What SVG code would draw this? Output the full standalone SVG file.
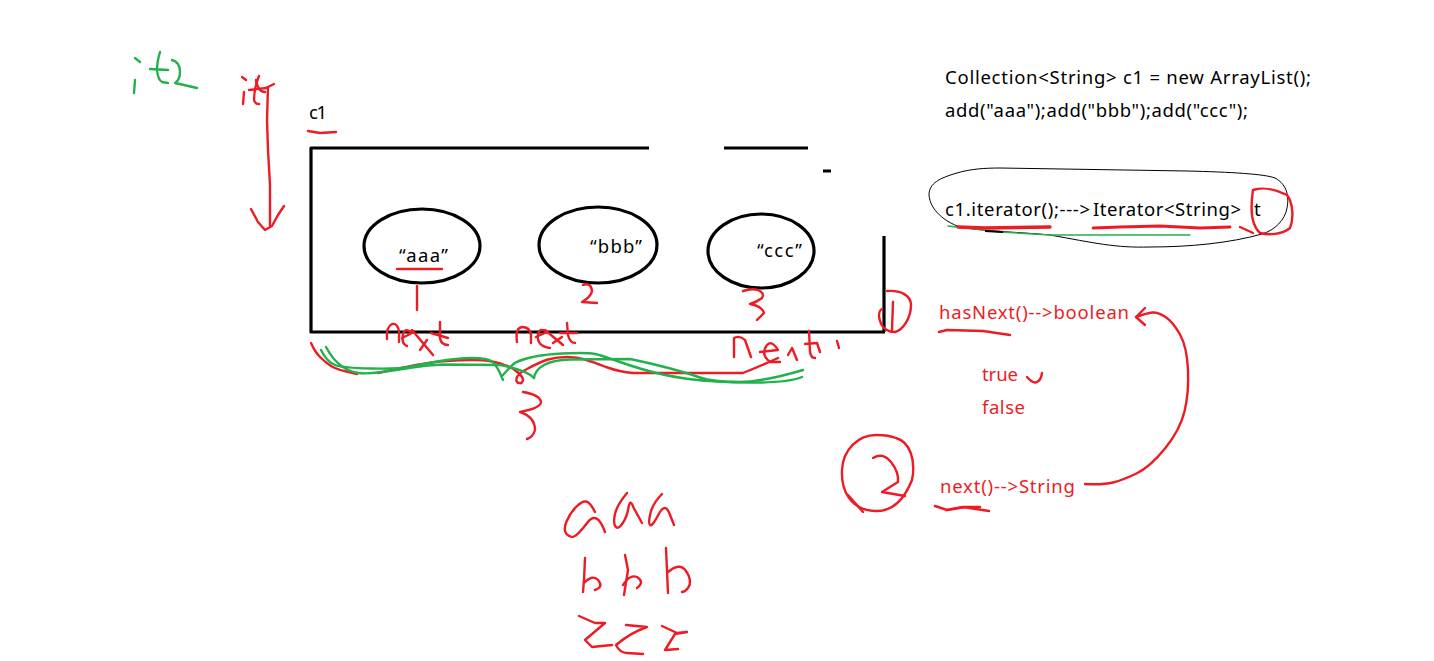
<svg xmlns="http://www.w3.org/2000/svg" width="1434" height="661" viewBox="0 0 1434 661">
<style>
text{font-family:"Noto Sans","Open Sans","Liberation Sans",sans-serif;font-size:18.5px}
.k{fill:#000}.rt{fill:#ed1c24}
.r,.g,.b,.t{fill:none;stroke-linejoin:round;stroke-linecap:round}
.r{stroke:#ed1c24;stroke-width:2.4}
.g{stroke:#22b14c;stroke-width:2.4}
.b{stroke:#000;stroke-width:3.2;stroke-linecap:butt}
.t{stroke:#000;stroke-width:1}
</style>
<rect width="1434" height="661" fill="#fff"/>

<g id="label-it2">
<polyline class="g" points="135,58 140,62"/><polyline class="g" points="135,80 134,93"/>
<path class="g" d="M160,52Q157,62 157,70Q158,80 162,82L168,83"/><polyline class="g" points="150,69 168,70"/>
<path class="g" d="M172,60Q180,62 180,72Q180,80 175,83L184,85L197,88"/>
</g>
<g id="label-it">
<polyline class="r" points="242,77 246,80"/><polyline class="r" points="244,92 243,104"/>
<path class="r" d="M259,76Q254,88 254,100Q255,104 259,104"/><polyline class="r" points="249,90 266,88 274,84"/>
<path class="r" d="M256,80Q258,92 265,92"/>
<polyline class="r" points="268,87 267,120 268,150 270,185 270,226"/>
<polyline class="r" points="251,209 258,222 265,230 272,226 278,215 284,206"/>
</g>
<g id="label-c1">
<text class="k" x="309" y="119" textLength="18">c1</text>
<polyline class="r" points="308,131 320,133 336,132"/>
</g>

<g id="collection-box">
<path class="b" d="M649,148H311V332H885M884,332V236M724,148H808M823,171H831"/>
</g>
<g id="node-aaa">
<ellipse class="b" cx="422" cy="246" rx="58" ry="37"/>
<text class="k" x="399" y="262" textLength="49">“aaa”</text>
<polyline class="r" points="397,269 442,269"/>
<polyline class="r" points="417,286 417,310"/>
</g>
<g id="node-bbb">
<ellipse class="b" cx="598" cy="245" rx="59" ry="38"/>
<text class="k" x="590" y="253" textLength="52">“bbb”</text>
<path class="r" d="M583,285Q591,282 592,291Q591,297 582,302L597,303"/>
</g>
<g id="node-ccc">
<ellipse class="b" cx="761" cy="251" rx="53" ry="37"/>
<text class="k" x="757" y="257" textLength="45">“ccc”</text>
<path class="r" d="M743,291Q752,288 758,290Q765,293 762,298Q757,302 750,304Q762,306 764,313L757,320"/>
</g>

<g id="next-labels">
<path class="r" d="M387,339Q386,327 392,324Q398,323 399,332L399,342"/>
<path class="r" d="M402,338L412,333Q405,327 403,334Q401,344 407,346"/>
<polyline class="r" points="412,330 433,355"/><polyline class="r" points="420,350 427,340"/>
<path class="r" d="M440,322L440,338Q441,345 448,345"/><polyline class="r" points="431,333 448,338"/>
<path class="r" d="M517,342Q515,328 522,327Q530,327 531,335L531,343"/>
<path class="r" d="M536,337L547,332Q540,327 538,334Q536,346 550,348"/>
<polyline class="r" points="545,330 563,345"/><polyline class="r" points="553,343 562,337"/>
<path class="r" d="M567,323L568,335Q570,343 575,343"/><polyline class="r" points="560,333 577,333"/>
<path class="r" d="M734,357L734,338Q740,335 745,340L751,357"/>
<path class="r" d="M760,352L778,350Q772,340 767,345Q760,354 770,362L780,362"/>
<polyline class="r" points="788,355 792,348 797,360"/>
<path class="r" d="M809,331L810,352Q811,358 815,358"/><polyline class="r" points="805,344 817,343 820,352"/>
<polyline class="r" points="837,341 839,348"/>
</g>

<g id="connectors">
<path class="r" d="M311,343Q315,352 320,357Q325,362 331,366Q337,370 357,374"/>
<path class="r" d="M378,373Q400,368 416,365Q433,362 446,361Q460,360 472,360Q485,360 492,361.5Q500,363 506,365.5Q513,368 518,372.5Q523,377 523,380Q522,384 519.5,383Q515,383 517,377Q520,372 527,369Q540,362 548,359.5Q557,357 567,357Q577,357 585,359.5Q593,362 606,367Q620,372 633,373L743,373Q763,365 778,358"/>
<path class="g" d="M321,350Q327,362 335,365Q343,368 371,368.5Q400,369 408,367Q417,365 437,361.5Q457,358 472,358Q487,358 492,361.5Q497,365 503,380"/>
<path class="g" d="M326,347Q333,360 341.5,366Q350,372 358,373Q367,374 382,372Q397,370 412,367.5Q427,365 443.5,364.5L500,365Q527,370 534,378"/>
<path class="g" d="M503,375Q510,367 513.5,364Q517,361 528.5,358Q540,355 555,354Q570,353 580,353Q590,353 595,354Q600,355 620,362Q640,369 656.5,373Q673,377 693,379.5Q713,382 750,382.5Q787,383 802,377"/>
<path class="g" d="M534,378Q535,370 544,365Q553,360 570,359.5L630,359Q650,363 668.5,368Q687,373 700,377.5Q713,382 738,382Q763,382 803,370"/>
<path class="r" d="M523,392Q540,395 541,402Q541,408 520,412Q535,417 535,430Q533,437 527,439"/>
<path class="r" d="M1085,484Q1103,485 1113,482.5Q1123,480 1136.5,473.5Q1150,467 1165,448.5Q1180,430 1184.5,411.5Q1189,393 1188,370Q1187,347 1180,334.5Q1173,322 1165.5,317Q1158,312 1152.5,312.5Q1147,313 1136,317"/>
<polyline class="r" points="1145,308 1136,317 1145,325"/>
</g>

<g id="code-top">
<text class="k" x="945" y="84" textLength="366">Collection&lt;String&gt; c1 = new ArrayList();</text>
<text class="k" x="945" y="117" textLength="303">add("aaa");add("bbb");add("ccc");</text>
</g>

<g id="iterator">
<path class="t" d="M960,227C945,222 930,210 929,195C929,183 940,178 957,173C970,169 985,168 1000,168L1187,171C1230,172 1265,174 1275,178C1288,185 1289,198 1287,208C1285,220 1275,230 1262,234C1230,243 1190,247 1150,247C1115,248 1095,243 1050,235C1020,232 990,232 960,227Z"/>
<text class="k" x="945" y="216" textLength="145">c1.iterator();---&gt;</text>
<text class="k" x="1093" y="216" textLength="148">Iterator&lt;String&gt;</text>
<text class="k" x="1254" y="216">t</text>
<polyline class="g" style="stroke-width:1.5" points="948,226 1000,232 1050,235 1190,235"/>
<polyline class="r" style="stroke-width:3.4" points="958,227 985,228 1050,227"/>
<polyline class="r" style="stroke-width:2.8" points="1093,228 1120,227 1160,226 1200,228 1230,227"/>
<polyline class="b" style="stroke-width:2" points="985,231 1003,232"/>
<path class="r" d="M1253,190C1262,187 1275,189 1287,195C1293,203 1294,218 1290,228C1282,235 1268,235 1260,233C1252,226 1250,210 1253,190"/>
<polyline class="r" points="1240,227 1253,233"/>
</g>

<g id="hasNext">
<path class="r" d="M887,291C900,290 911,295 911,305C911,318 903,330 895,332C885,332 880,325 879,316C879,312 880,310 882,309"/>
<polyline class="r" points="893,302 892,330"/>
<text class="rt" x="939" y="319" textLength="190">hasNext()--&gt;boolean</text>
<polyline class="r" points="939,332 947,330 983,331 1010,335"/>
<text class="rt" x="982" y="381" textLength="36">true</text>
<path class="r" d="M1027,377Q1033,384 1037,382Q1041,380 1042,373"/>
<text class="rt" x="982" y="414" textLength="43">false</text>
</g>

<g id="next">
<path class="r" d="M878,435C858,434 843,450 842,470C841,490 850,510 875,511C895,512 906,495 912,480C916,460 910,442 896,438C888,435 884,435 878,435"/>
<polyline class="r" points="848,495 863,512"/>
<path class="r" d="M873,458Q883,452 891,462Q899,472 898,482L882,492L905,496"/>
<text class="rt" x="940" y="493" textLength="135">next()--&gt;String</text>
<polyline class="r" points="935,506 947,510 963,507 989,511"/>
<polyline class="r" points="947,510 965,507 980,507"/>
</g>

<g id="output">
<path class="r" d="M595,512Q590,502 586,501.5Q582,501 576,507Q570,513 566.5,521.5Q563,530 566.5,534Q570,538 574,536.5Q578,535 587.5,522.5Q597,510 605,532"/>
<path class="r" d="M627,493Q617,505 615,514Q613,523 615.5,526.5Q618,530 622.5,523.5Q627,517 628.5,507.5Q630,498 633.5,507.5L642,523"/>
<path class="r" d="M662,494Q653,503 650.5,513Q648,523 650,525Q652,527 658.5,514.5Q665,502 669.5,513.5L674,525"/>
<polyline class="r" points="585,558 584,580 583,592"/><path class="r" d="M584,583Q593,574 598,580Q604,587 595,590"/>
<polyline class="r" points="625,555 628,570 624,595"/><path class="r" d="M623,585Q630,574 637,577Q645,582 637,588"/>
<polyline class="r" points="666,548 668,593"/><path class="r" d="M668,572Q680,562 686,571Q693,581 688,588Q685,592 682,592"/>
<path class="r" d="M579,616L595,623L605,623L585,640L592,647L612,645"/>
<path class="r" d="M626,625L647,627Q630,633 616,645Q620,653 627,653L643,654"/>
<path class="r" d="M662,626L677,633L687,632L675,634L665,650L678,649"/>
</g>
</svg>
